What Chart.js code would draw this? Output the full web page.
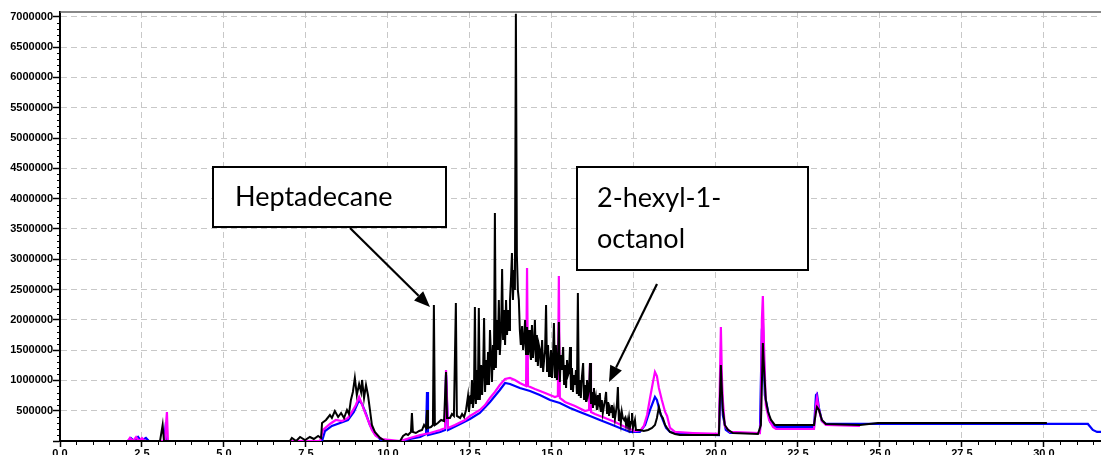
<!DOCTYPE html>
<html>
<head>
<meta charset="utf-8">
<script src="https://cdn.jsdelivr.net/npm/chart.js@4.4.0/dist/chart.umd.min.js"></script>
<style>
    html, body { margin: 0; padding: 0; background: #fff; }
    #wrap { width: 1101px; height: 455px; }
</style>
</head>
<body>
<div id="wrap"><canvas id="gcChart" width="1101" height="455"></canvas></div>
<script>
// =====================  chromatogram traces: [retention time (min), abundance]  =====================
var blackTrace = [
    [0.03, 0], [3.05, 0], [3.13, 264000], [3.17, 0], [7.01, 0], [7.07, 50000], [7.20, 0], [7.32, 66000],
    [7.47, 15000], [7.62, 66000], [7.74, 33000], [7.87, 83000], [7.96, 50000], [7.99, 297000], [8.11, 347000],
    [8.23, 429000], [8.29, 380000], [8.38, 495000], [8.48, 396000], [8.57, 462000], [8.66, 380000], [8.75, 512000],
    [8.81, 446000], [8.87, 677000], [8.93, 809000], [8.99, 1040000], [9.05, 759000], [9.12, 941000], [9.18, 809000],
    [9.21, 1007000], [9.27, 710000], [9.33, 924000], [9.39, 759000], [9.45, 512000], [9.51, 264000], [9.60, 149000],
    [9.76, 50000], [9.91, 0], [10.37, 0], [10.46, 83000], [10.55, 116000], [10.61, 99000], [10.70, 149000],
    [10.73, 462000], [10.76, 149000], [10.85, 132000], [10.95, 165000], [11.04, 182000], [11.10, 264000],
    [11.16, 215000], [11.19, 512000], [11.22, 215000], [11.31, 231000], [11.37, 264000], [11.40, 2244000],
    [11.43, 264000], [11.52, 297000], [11.62, 347000], [11.71, 330000], [11.77, 1139000], [11.80, 380000],
    [11.89, 380000], [11.95, 446000], [12.01, 413000], [12.07, 2277000], [12.10, 413000], [12.20, 380000],
    [12.26, 446000], [12.32, 396000], [12.38, 512000], [12.44, 743000], [12.47, 479000], [12.53, 611000],
    [12.59, 545000], [12.65, 2211000], [12.68, 611000], [12.74, 677000], [12.77, 2195000], [12.80, 677000],
    [12.87, 759000], [12.93, 2030000], [12.96, 809000], [13.02, 924000], [13.05, 1469000], [13.08, 924000],
    [13.14, 1403000], [13.17, 974000], [13.23, 1172000], [13.26, 3762000], [13.29, 1205000], [13.35, 1502000],
    [13.41, 1419000], [13.45, 1832000], [13.48, 2838000], [13.51, 1667000], [13.57, 1584000], [13.60, 2327000],
    [13.63, 1749000], [13.66, 2162000], [13.69, 1832000], [13.75, 2657000], [13.78, 3102000], [13.81, 2327000],
    [13.84, 2822000], [13.87, 2492000], [13.90, 7050000], [13.93, 3069000], [13.96, 2492000], [13.99, 2327000],
    [14.02, 1832000], [14.05, 1584000], [14.09, 1898000], [14.12, 1502000], [14.15, 1667000], [14.21, 1419000],
    [14.24, 1881000], [14.27, 1419000], [14.33, 1502000], [14.36, 1337000], [14.42, 1370000], [14.48, 1997000],
    [14.51, 1304000], [14.57, 1238000], [14.63, 1502000], [14.66, 1205000], [14.73, 1139000], [14.76, 1337000],
    [14.82, 2244000], [14.85, 1139000], [14.91, 1073000], [14.94, 1254000], [15.00, 1040000], [15.06, 1947000],
    [15.09, 1040000], [15.15, 1007000], [15.21, 1964000], [15.24, 974000], [15.30, 1172000], [15.34, 1551000],
    [15.37, 924000], [15.43, 875000], [15.49, 1089000], [15.55, 1551000], [15.58, 842000], [15.64, 809000],
    [15.70, 924000], [15.76, 776000], [15.79, 2442000], [15.82, 743000], [15.88, 710000], [15.95, 1287000],
    [15.98, 677000], [16.04, 644000], [16.10, 759000], [16.16, 1287000], [16.19, 611000], [16.25, 545000],
    [16.31, 594000], [16.37, 512000], [16.46, 792000], [16.49, 479000], [16.55, 462000], [16.62, 677000],
    [16.65, 809000], [16.68, 446000], [16.74, 413000], [16.80, 479000], [16.86, 380000], [16.92, 363000],
    [17.01, 891000], [17.04, 330000], [17.10, 297000], [17.20, 347000], [17.26, 264000], [17.32, 248000],
    [17.38, 231000], [17.44, 462000], [17.47, 215000], [17.56, 182000], [17.68, 182000], [17.80, 165000],
    [17.93, 182000], [18.05, 215000], [18.14, 264000], [18.20, 380000], [18.26, 561000], [18.32, 429000],
    [18.38, 380000], [18.45, 264000], [18.51, 215000], [18.60, 149000], [18.75, 116000], [18.90, 99000],
    [20.09, 99000], [20.12, 677000], [20.15, 1254000], [20.18, 842000], [20.21, 512000], [20.27, 264000],
    [20.37, 182000], [20.52, 132000], [21.28, 116000], [21.37, 264000], [21.43, 1617000], [21.46, 1254000],
    [21.52, 677000], [21.59, 479000], [21.68, 347000], [21.80, 264000], [22.99, 264000], [23.05, 479000],
    [23.08, 561000], [23.14, 512000], [23.23, 347000], [23.35, 281000], [24.39, 264000], [24.94, 297000],
    [30.09, 297000]
];

// smaller black peaks riding on the hump between 12.5 and 17.5 min
var blackSmallPeaks = [
    [12.52, 759000], [12.56, 1007000], [12.62, 710000], [12.71, 1172000], [12.84, 1254000], [12.90, 1139000],
    [12.99, 1337000], [13.11, 1832000], [13.20, 1584000], [13.32, 1997000], [13.38, 2327000], [13.54, 2162000],
    [13.72, 2327000], [14.18, 1997000], [14.30, 1832000], [14.39, 1914000], [14.45, 1584000], [14.54, 1749000],
    [14.60, 1584000], [14.70, 1667000], [14.79, 1502000], [14.88, 1584000], [14.97, 1502000], [15.03, 1337000],
    [15.12, 1584000], [15.18, 1254000], [15.27, 1419000], [15.40, 1254000], [15.46, 1337000], [15.52, 1139000],
    [15.61, 1205000], [15.67, 1089000], [15.73, 1172000], [15.85, 1007000], [15.91, 1040000], [16.01, 924000],
    [16.07, 1007000], [16.13, 842000], [16.22, 809000], [16.28, 875000], [16.34, 710000], [16.40, 759000],
    [16.43, 627000], [16.52, 677000], [16.59, 594000], [16.71, 644000], [16.77, 545000], [16.83, 594000],
    [16.89, 512000], [16.95, 479000], [16.98, 594000], [17.07, 429000], [17.13, 479000], [17.16, 380000],
    [17.23, 380000], [17.29, 347000], [17.35, 380000], [17.41, 314000], [17.50, 281000], [17.53, 347000]
];

var magentaTrace = [
    [0.03, 0], [2.07, 0], [2.13, 50000], [2.23, 0], [2.32, 66000], [2.41, 0], [2.50, 50000], [2.59, 0],
    [3.20, 0], [3.23, 264000], [3.26, 479000], [3.29, 0], [7.01, 0], [7.93, 0], [8.02, 182000], [8.23, 281000],
    [8.41, 347000], [8.60, 330000], [8.78, 380000], [8.90, 479000], [9.02, 594000], [9.12, 726000],
    [9.18, 644000], [9.27, 512000], [9.39, 347000], [9.51, 182000], [9.63, 83000], [9.82, 33000], [10.37, 0],
    [10.67, 50000], [10.98, 99000], [11.28, 132000], [11.59, 182000], [11.74, 215000], [11.77, 1172000],
    [11.83, 215000], [12.04, 264000], [12.35, 347000], [12.50, 413000], [12.65, 462000], [12.80, 512000],
    [12.96, 594000], [13.11, 710000], [13.26, 809000], [13.41, 924000], [13.57, 1023000], [13.72, 1040000],
    [13.87, 1007000], [14.02, 957000], [14.21, 908000], [14.24, 2855000], [14.27, 908000], [14.48, 858000],
    [14.79, 792000], [15.09, 726000], [15.18, 743000], [15.21, 2723000], [15.24, 710000], [15.40, 644000],
    [15.70, 578000], [16.01, 495000], [16.13, 512000], [16.16, 1287000], [16.19, 479000], [16.31, 446000],
    [16.62, 380000], [16.92, 314000], [17.23, 231000], [17.53, 165000], [17.71, 182000], [17.80, 248000],
    [17.90, 429000], [17.99, 710000], [18.08, 974000], [18.14, 1139000], [18.20, 1073000], [18.26, 875000],
    [18.35, 677000], [18.45, 479000], [18.51, 413000], [18.60, 215000], [18.75, 149000], [19.30, 132000],
    [20.09, 116000], [20.12, 1007000], [20.15, 1881000], [20.18, 1073000], [20.21, 677000], [20.27, 248000],
    [20.43, 149000], [21.34, 132000], [21.37, 347000], [21.40, 1997000], [21.43, 2393000], [21.46, 1667000],
    [21.52, 594000], [21.62, 347000], [21.74, 231000], [21.83, 198000], [22.99, 198000], [23.05, 594000],
    [23.08, 710000], [23.14, 512000], [23.23, 330000], [23.35, 264000], [24.39, 248000]
];

var blueTrace = [
    [0.03, 0], [2.07, 0], [2.16, 50000], [2.26, 0], [2.38, 66000], [2.47, 0], [2.62, 50000], [2.71, 0],
    [3.17, 0], [3.20, 149000], [3.23, 0], [7.01, 0], [7.99, 0], [8.08, 165000], [8.29, 248000], [8.54, 297000],
    [8.78, 347000], [8.96, 479000], [9.12, 677000], [9.21, 611000], [9.33, 446000], [9.45, 264000],
    [9.60, 116000], [9.82, 0], [10.37, 0], [10.67, 33000], [10.98, 66000], [11.16, 116000], [11.19, 809000],
    [11.22, 99000], [11.59, 149000], [11.74, 182000], [11.77, 1089000], [11.83, 182000], [12.20, 281000],
    [12.50, 363000], [12.80, 462000], [13.11, 644000], [13.41, 842000], [13.57, 957000], [13.72, 941000],
    [14.02, 875000], [14.33, 825000], [14.63, 759000], [14.94, 677000], [15.24, 627000], [15.55, 545000],
    [15.85, 479000], [16.16, 413000], [16.46, 347000], [16.77, 281000], [17.07, 215000], [17.38, 149000],
    [17.68, 149000], [17.84, 264000], [17.99, 512000], [18.14, 726000], [18.20, 677000], [18.29, 479000],
    [18.38, 347000], [18.48, 215000], [18.60, 149000], [18.90, 116000], [20.09, 99000], [20.15, 1172000],
    [20.21, 429000], [20.30, 182000], [20.43, 132000], [21.34, 132000], [21.40, 1832000], [21.43, 1997000],
    [21.49, 759000], [21.65, 314000], [21.80, 231000], [22.99, 231000], [23.05, 759000], [23.08, 776000],
    [23.14, 545000], [23.23, 330000], [23.35, 281000], [31.34, 281000], [31.49, 182000], [31.62, 149000],
    [31.74, 149000]
];

// axis ranges and tick steps
var xMax = 31.74;
var yMax = 7080000;
var xStep = 2.5;
var yStep = 500000;

// callout texts
var calloutHepta = ["Heptadecane"];
var calloutOctanol = ["2-hexyl-1-", "octanol"];

function toPoints(trace) {
    return trace
        .slice()
        .sort(function (a, b) { return a[0] - b[0]; })
        .map(function (p) {
            return { x: p[0], y: p[1] };
        });
}

function stepTicks(step) {
    return function (scale) {
        var ticks = [];
        for (var v = 0; v <= scale.max + 1e-9; v += step) {
            ticks.push({ value: v });
        }
        scale.ticks = ticks;
    };
}

// ===================== frame, minor ticks and callouts =====================
var extrasPlugin = {
    id: 'extras',
    afterDraw: function (chart) {
        var ctx = chart.ctx;
        var a = chart.chartArea;
        var xs = chart.scales.x;
        var ys = chart.scales.y;
        ctx.save();

        // grey top frame line
        ctx.strokeStyle = '#606060';
        ctx.lineWidth = 1.5;
        ctx.beginPath();
        ctx.moveTo(a.left, a.top);
        ctx.lineTo(a.right, a.top);
        ctx.stroke();

        // minor ticks
        ctx.strokeStyle = '#000';
        ctx.lineWidth = 1;
        for (var i = 1; i * 0.5 <= xMax; i++) {
            if (i % 5 === 0) continue;
            var px = Math.round(xs.getPixelForValue(i * 0.5)) + 0.5;
            ctx.beginPath();
            ctx.moveTo(px, a.bottom);
            ctx.lineTo(px, a.bottom + 4);
            ctx.stroke();
        }
        for (var j = 1; j * 100000 <= yMax; j++) {
            if (j % 5 === 0) continue;
            var py = Math.round(ys.getPixelForValue(j * 100000)) + 0.5;
            ctx.beginPath();
            ctx.moveTo(a.left - 3, py);
            ctx.lineTo(a.left, py);
            ctx.stroke();
        }

        // callout boxes
        drawBox(ctx, 213, 167, 233, 60, calloutHepta, 235, 206);
        drawBox(ctx, 577, 167, 231, 103, calloutOctanol, 597, 207);

        // arrows
        drawArrow(ctx, 350, 228, 430, 307);
        drawArrow(ctx, 657, 284, 609, 382);

        ctx.restore();
    }
};

function drawBox(ctx, x, y, w, h, lines, tx, ty) {
    ctx.fillStyle = '#fff';
    ctx.fillRect(x, y, w, h);
    ctx.strokeStyle = '#000';
    ctx.lineWidth = 2;
    ctx.strokeRect(x, y, w, h);
    ctx.fillStyle = '#000';
    ctx.font = '27px Lato';
    ctx.textBaseline = 'alphabetic';
    ctx.textAlign = 'left';
    lines.forEach(function (t, k) {
        ctx.fillText(t, tx, ty + k * 41);
    });
}

function drawArrow(ctx, x1, y1, x2, y2) {
    var ang = Math.atan2(y2 - y1, x2 - x1);
    var len = 16, half = 6.5;
    var bx = x2 - len * Math.cos(ang);
    var by = y2 - len * Math.sin(ang);
    ctx.strokeStyle = '#000';
    ctx.lineWidth = 2.2;
    ctx.beginPath();
    ctx.moveTo(x1, y1);
    ctx.lineTo(bx, by);
    ctx.stroke();
    ctx.fillStyle = '#000';
    ctx.beginPath();
    ctx.moveTo(x2, y2);
    ctx.lineTo(bx + half * Math.sin(ang), by - half * Math.cos(ang));
    ctx.lineTo(bx - half * Math.sin(ang), by + half * Math.cos(ang));
    ctx.closePath();
    ctx.fill();
}

// ===================== chart =====================
var tickFont = { family: 'Liberation Sans', size: 11, weight: 'bold' };

new Chart(document.getElementById('gcChart'), {
    type: 'line',
    data: {
        datasets: [
            { label: 'black', data: toPoints(blackTrace.concat(blackSmallPeaks)), borderColor: '#000000', borderWidth: 2 },
            { label: 'magenta', data: toPoints(magentaTrace), borderColor: '#ff00ff', borderWidth: 2.2 },
            { label: 'blue', data: toPoints(blueTrace), borderColor: '#0000ff', borderWidth: 2.2 }
        ]
    },
    options: {
        responsive: false,
        animation: false,
        devicePixelRatio: 1,
        parsing: false,
        elements: {
            point: { radius: 0 },
            line: { tension: 0, fill: false }
        },
        layout: { padding: { top: 12, left: 0, right: 0, bottom: 0 } },
        plugins: {
            legend: { display: false },
            tooltip: { enabled: false }
        },
        scales: {
            x: {
                type: 'linear',
                min: 0,
                max: xMax,
                afterFit: function (s) { s.height = 14; },
                afterBuildTicks: stepTicks(xStep),
                grid: { color: '#c8c8c8', lineWidth: 1, tickColor: '#000', tickLength: 6, tickWidth: 1.5 },
                border: { display: true, color: '#000', width: 2, dash: [6, 4] },
                ticks: {
                    autoSkip: false,
                    maxRotation: 0,
                    padding: 0,
                    color: '#000',
                    font: tickFont,
                    callback: function (v) { return v.toFixed(1); }
                }
            },
            y: {
                min: 0,
                max: yMax,
                afterFit: function (s) { s.width = 60; },
                afterBuildTicks: stepTicks(yStep),
                grid: { color: '#c8c8c8', lineWidth: 1, tickColor: '#000', tickLength: 7, tickWidth: 1.5 },
                border: { display: true, color: '#000', width: 2, dash: [6, 4] },
                ticks: {
                    autoSkip: false,
                    padding: 0,
                    color: '#000',
                    font: tickFont,
                    callback: function (v) { return v === 0 ? '' : v.toFixed(0); }
                }
            }
        }
    },
    plugins: [extrasPlugin]
});
</script>
</body>
</html>
